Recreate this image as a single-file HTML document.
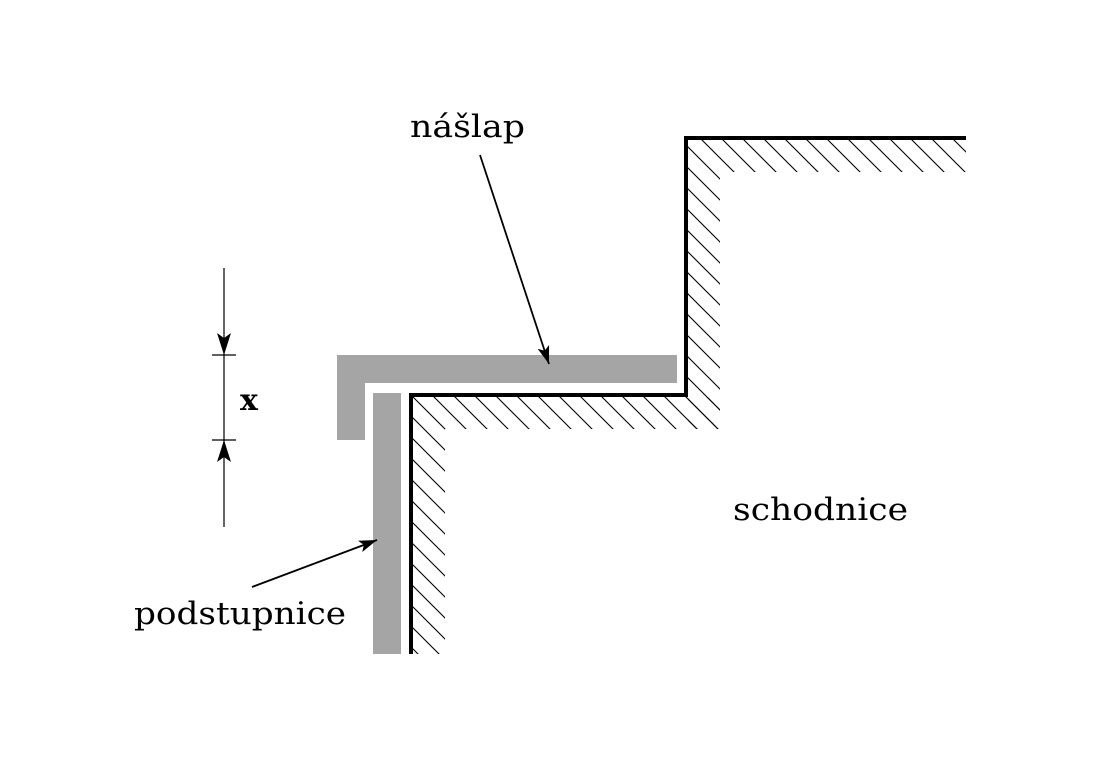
<!DOCTYPE html>
<html><head><meta charset="utf-8"><style>html,body{margin:0;padding:0;background:#fff}svg{display:block}</style></head>
<body>
<svg width="1102" height="762" viewBox="0 0 1102 762" xmlns="http://www.w3.org/2000/svg">
<defs>
<pattern id="h" patternUnits="userSpaceOnUse" width="21" height="21" x="413" y="397">
<path d="M0,0 L21,21 M-21,0 L0,21 M21,0 L42,21 M0,-21 L21,0 M0,21 L21,42" stroke="#000" stroke-width="1.1"/>
</pattern>
<marker id="a" markerWidth="18" markerHeight="12" refX="18" refY="6" orient="auto" markerUnits="userSpaceOnUse" viewBox="0 0 18 12">
<path d="M0,0 L18,6 L0,12 L4,6 z" fill="#000"/>
</marker>
</defs>
<g fill="url(#h)">
<path d="M413,397 H720 V429 H445 V654 H413 Z"/>
<path d="M688,140 H966 V172 H720 V429 H688 Z"/>
</g>
<g fill="#a5a5a5">
<path d="M337,355 H677 V383 H365 V440 H337 Z"/>
<rect x="373" y="393" width="28" height="261"/>
</g>
<path d="M411,654 V395 H686 V138 H966" fill="none" stroke="#000" stroke-width="4"/>
<line x1="224" y1="268" x2="224" y2="527" stroke="#000" stroke-width="1.2"/>
<line x1="212" y1="355" x2="236" y2="355" stroke="#000" stroke-width="1.2"/>
<line x1="212" y1="440" x2="236" y2="440" stroke="#000" stroke-width="1.2"/>
<path d="M217,333 L224,355 L231,333 L224,338 Z" fill="#000"/>
<path d="M217,462 L224,440 L231,462 L224,457 Z" fill="#000"/>
<line x1="480" y1="155" x2="549" y2="364" stroke="#000" stroke-width="1.8" marker-end="url(#a)"/>
<line x1="252" y1="587" x2="377" y2="540" stroke="#000" stroke-width="1.8" marker-end="url(#a)"/>
<g font-family="'DejaVu Serif','Liberation Serif',serif" font-size="31" fill="#000">
<text x="410" y="137" textLength="115" lengthAdjust="spacingAndGlyphs">nášlap</text>
<text x="733" y="520" textLength="175" lengthAdjust="spacingAndGlyphs">schodnice</text>
<text x="134" y="624" textLength="212" lengthAdjust="spacingAndGlyphs">podstupnice</text>
<text x="240" y="410" font-weight="bold" font-size="30">x</text>
</g>
</svg>
</body></html>
